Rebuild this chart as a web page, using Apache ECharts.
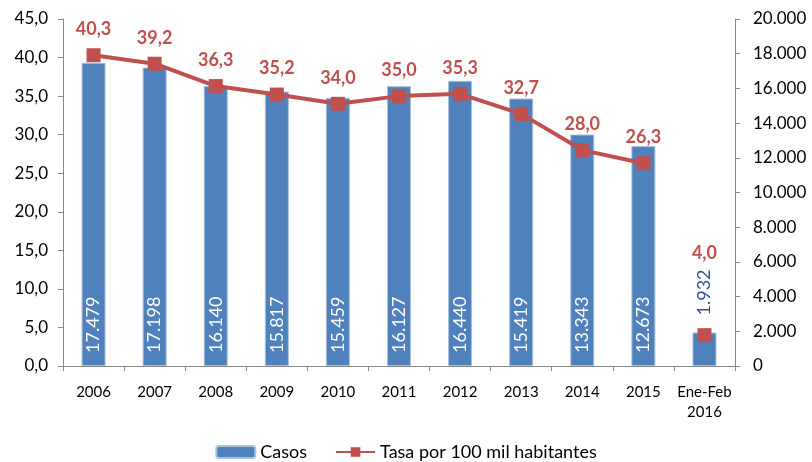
<!DOCTYPE html>
<html>
<head>
<meta charset="utf-8">
<script src="https://cdn.jsdelivr.net/npm/echarts@6/dist/echarts.min.js"></script>
<style>
  html, body { margin: 0; padding: 0; background: #fff; }
  #chart { width: 812px; height: 462px; }
</style>
</head>
<body>
<div id="chart"></div>
<script>
const categories = ['2006', '2007', '2008', '2009', '2010', '2011', '2012', '2013', '2014', '2015', 'Ene-Feb\n2016']
const casos = [17479, 17198, 16140, 15817, 15459, 16127, 16440, 15419, 13343, 12673, 1932]
const tasa = [40.3, 39.2, 36.3, 35.2, 34.0, 35.0, 35.3, 32.7, 28.0, 26.3, 4.0]
const leftTicks = { min: 0, max: 45, interval: 5 }
const rightTicks = { min: 0, max: 20000, interval: 2000 }

const font = 'Lato'
const red = '#C0504D'
const blue = '#4F81BD'
const axisGray = '#868686'

// la serie anual va hasta 2015, el dato parcial de 2016 va suelto
const last = tasa.length - 1
const tasaAnual = tasa.map((v, i) => (i < last ? v : null))
const tasaParcial = tasa.map((v, i) => (i === last ? v : null))

const comma = v => v.toFixed(1).replace('.', ',')
const miles = v => String(v).replace(/\B(?=(\d{3})+(?!\d))/g, '.')

const barData = casos.map((v, i) => {
  if (i < last) return v
  return {
    value: v,
    label: {
      position: 'top',
      distance: 17,
      color: '#2A5690'
    }
  }
})

const chart = echarts.init(document.getElementById('chart'))
chart.setOption({
  animation: false,
  textStyle: { fontFamily: font },
  grid: { left: 63, right: 77, top: 19, bottom: 96 },
  legend: {
    top: 443,
    left: 'center',
    itemWidth: 39,
    itemHeight: 12,
    itemGap: 28,
    padding: 0,
    textStyle: { fontSize: 18, color: '#000', fontFamily: font },
    data: ['Casos', 'Tasa por 100 mil habitantes']
  },
  xAxis: {
    type: 'category',
    data: categories,
    axisLine: { lineStyle: { color: axisGray } },
    axisTick: { show: true, alignWithLabel: false, length: 5, lineStyle: { color: axisGray } },
    axisLabel: { color: '#000', fontSize: 15, margin: 16, lineHeight: 20, interval: 0 }
  },
  yAxis: [
    {
      type: 'value',
      min: leftTicks.min,
      max: leftTicks.max,
      interval: leftTicks.interval,
      splitLine: { show: false },
      axisLine: { show: true, lineStyle: { color: axisGray } },
      axisTick: { show: true, length: 5, lineStyle: { color: axisGray } },
      axisLabel: { color: '#000', fontSize: 17, margin: 15, formatter: v => comma(v) }
    },
    {
      type: 'value',
      min: rightTicks.min,
      max: rightTicks.max,
      interval: rightTicks.interval,
      splitLine: { show: false },
      axisLine: { show: true, lineStyle: { color: axisGray } },
      axisTick: { show: true, length: 5, lineStyle: { color: axisGray } },
      axisLabel: { color: '#000', fontSize: 17, margin: 18, formatter: v => miles(v) }
    }
  ],
  series: [
    {
      name: 'Casos',
      type: 'bar',
      yAxisIndex: 1,
      barWidth: 24,
      data: barData,
      itemStyle: { color: blue, borderColor: '#a9c0de', borderWidth: 1 },
      label: {
        show: true,
        position: 'insideBottom',
        rotate: 90,
        align: 'left',
        verticalAlign: 'middle',
        distance: 13,
        color: '#fff',
        fontSize: 18,
        formatter: p => miles(p.value)
      },
      z: 1
    },
    {
      name: 'Tasa por 100 mil habitantes',
      type: 'line',
      yAxisIndex: 0,
      data: tasaAnual,
      symbol: 'rect',
      symbolSize: 14,
      lineStyle: { color: red, width: 4 },
      itemStyle: { color: red },
      label: {
        show: true,
        position: 'top',
        distance: 10,
        color: red,
        fontSize: 18,
        fontWeight: 'bold',
        formatter: p => comma(p.value)
      },
      z: 3
    },
    {
      name: 'Tasa por 100 mil habitantes',
      type: 'line',
      yAxisIndex: 0,
      data: tasaParcial,
      symbol: 'rect',
      symbolSize: 14,
      showAllSymbol: true,
      lineStyle: { color: red, width: 4 },
      itemStyle: { color: red },
      label: {
        show: true,
        position: 'top',
        distance: 66,
        color: red,
        fontSize: 18,
        fontWeight: 'bold',
        formatter: p => comma(p.value)
      },
      z: 3
    }
  ]
})
</script>
</body>
</html>
